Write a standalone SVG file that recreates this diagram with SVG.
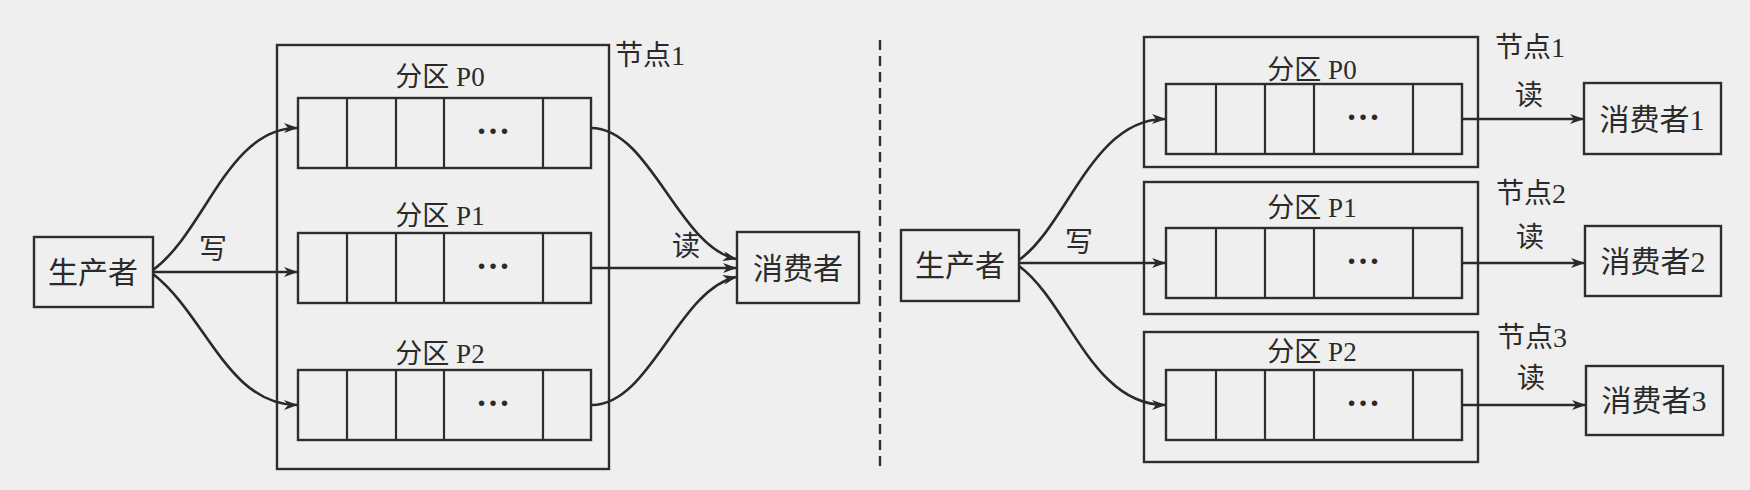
<svg xmlns="http://www.w3.org/2000/svg" width="1750" height="490" viewBox="0 0 1750 490">
<style>
.bx{fill:none;stroke:#2e2e2e;stroke-width:2.4}
.ln{fill:none;stroke:#2e2e2e;stroke-width:2.2}
.t{font-family:"Liberation Serif","Noto Sans CJK SC",serif;font-size:28px;fill:#2a2a2a;text-anchor:middle}
.tb{font-family:"Liberation Serif","Noto Sans CJK SC",serif;font-size:30px;fill:#2a2a2a;text-anchor:middle}
.tl{font-family:"Liberation Serif","Noto Sans CJK SC",serif;font-size:27px;fill:#2a2a2a;text-anchor:middle}
.dots{font-family:"Liberation Serif",serif;font-size:34px;font-weight:bold;fill:#2a2a2a;text-anchor:middle}
.cn{fill:none;stroke:#2a2a2a;stroke-width:2.6;marker-end:url(#ah)}
.dash{fill:none;stroke:#333;stroke-width:2.4;stroke-dasharray:10 6}
</style>
<defs>
<marker id="ah" viewBox="0 0 14 10" refX="13" refY="5" markerWidth="14" markerHeight="10" markerUnits="userSpaceOnUse" orient="auto">
<path d="M0,0 L14,5 L0,10 L4,5 z" fill="#2a2a2a"/>
</marker>
<g id="rowL">
<rect class="bx" x="0" y="0" width="293" height="70"/>
<path class="ln" d="M49,0V70M98,0V70M146,0V70M245,0V70"/>
<text class="dots" x="195" y="36">…</text>
</g>
<g id="rowR">
<rect class="bx" x="0" y="0" width="296" height="70"/>
<path class="ln" d="M50,0V70M99,0V70M148,0V70M247,0V70"/>
<text class="dots" x="197" y="36">…</text>
</g>
</defs>
<rect width="1750" height="490" fill="#efefef"/>

<!-- left half -->
<g id="producerL">
<rect class="bx" x="34" y="237" width="119" height="70"/>
<text class="tb" x="93" y="283">生产者</text>
</g>
<g id="node1L">
<rect class="bx" x="277" y="45" width="332" height="424"/>
<text class="t" x="650" y="65">节点1</text>
</g>
<g id="p0L">
<text class="tl" x="440" y="86">分区 P0</text>
<use href="#rowL" x="298" y="98"/>
</g>
<g id="p1L">
<text class="tl" x="440" y="225">分区 P1</text>
<use href="#rowL" x="298" y="233"/>
</g>
<g id="p2L">
<text class="tl" x="440" y="363">分区 P2</text>
<use href="#rowL" x="298" y="370"/>
</g>
<g id="consumerL">
<rect class="bx" x="737" y="232" width="122" height="71"/>
<text class="tb" x="798" y="279">消费者</text>
</g>

<!-- divider -->
<g id="divider">
<line class="dash" x1="880" y1="40" x2="880" y2="467"/>
</g>

<!-- right half -->
<g id="producerR">
<rect class="bx" x="901" y="230" width="118" height="71"/>
<text class="tb" x="960" y="276">生产者</text>
</g>
<g id="node1R">
<rect class="bx" x="1144" y="37" width="334" height="130"/>
<text class="tl" x="1312" y="79">分区 P0</text>
<use href="#rowR" x="1166" y="84"/>
<text class="t" x="1530" y="57">节点1</text>
</g>
<g id="node2R">
<rect class="bx" x="1144" y="182" width="334" height="132"/>
<text class="tl" x="1312" y="217">分区 P1</text>
<use href="#rowR" x="1166" y="228"/>
<text class="t" x="1531" y="203">节点2</text>
</g>
<g id="node3R">
<rect class="bx" x="1144" y="332" width="334" height="130"/>
<text class="tl" x="1312" y="361">分区 P2</text>
<use href="#rowR" x="1166" y="370"/>
<text class="t" x="1532" y="347">节点3</text>
</g>
<g id="consumer1">
<rect class="bx" x="1584" y="83" width="137" height="71"/>
<text class="tb" x="1652" y="130">消费者1</text>
</g>
<g id="consumer2">
<rect class="bx" x="1585" y="226" width="136" height="70"/>
<text class="tb" x="1653" y="272">消费者2</text>
</g>
<g id="consumer3">
<rect class="bx" x="1586" y="366" width="137" height="69"/>
<text class="tb" x="1654" y="411">消费者3</text>
</g>

<!-- connectors -->
<g id="connectors">
<path class="cn" d="M153,270 C205,232 228,128 297,128"/>
<path class="cn" d="M153,272 L297,272"/>
<path class="cn" d="M153,274 C205,314 228,405 297,405"/>
<text class="t" x="213" y="259">写</text>
<path class="cn" d="M591,128 C650,128 678,246 736,259"/>
<path class="cn" d="M591,268 L736,268"/>
<path class="cn" d="M592,405 C650,405 678,290 736,277"/>
<text class="t" x="686" y="256">读</text>

<path class="cn" d="M1019,260 C1068,225 1092,119 1165,119"/>
<path class="cn" d="M1019,263 L1165,263"/>
<path class="cn" d="M1019,266 C1068,302 1092,405 1165,405"/>
<text class="t" x="1079" y="252">写</text>
<path class="cn" d="M1462,119 L1583,119"/>
<path class="cn" d="M1462,263 L1584,263"/>
<path class="cn" d="M1462,405 L1585,405"/>
<text class="t" x="1529" y="105">读</text>
<text class="t" x="1530" y="247">读</text>
<text class="t" x="1531" y="388">读</text>
</g>
</svg>
